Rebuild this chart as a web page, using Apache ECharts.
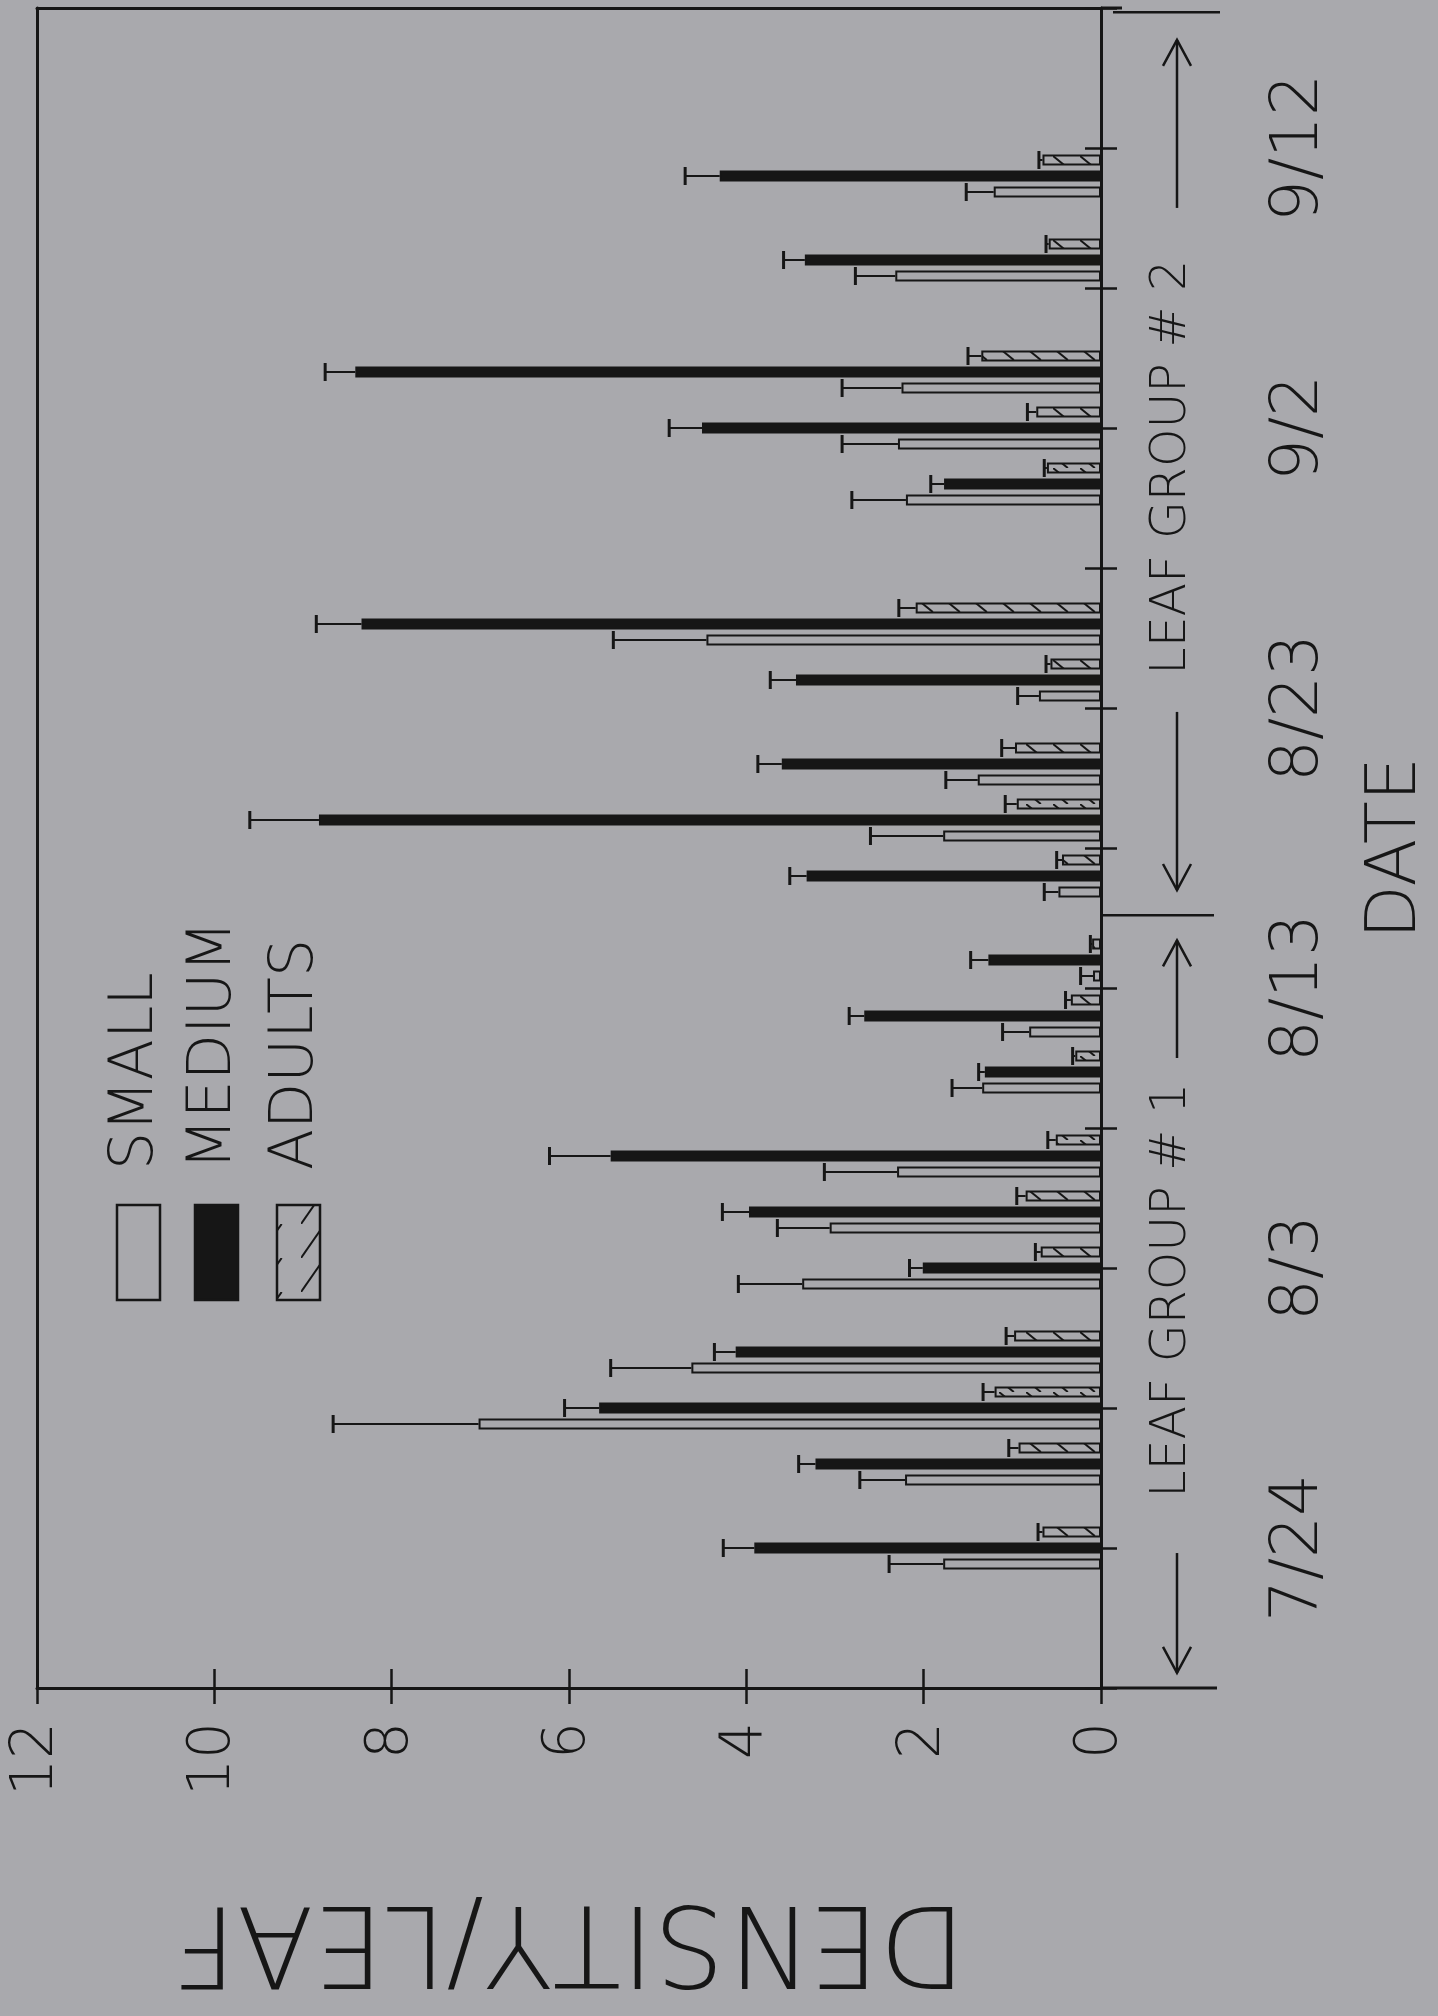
<!DOCTYPE html>
<html><head><meta charset="utf-8">
<script src="https://cdn.jsdelivr.net/npm/echarts@6/dist/echarts.min.js"></script>
<style>html,body{margin:0;padding:0;background:#a9a9ad;}#c{width:1438px;height:2016px;}</style>
</head><body><div id="c"></div>
<script>
// ---------------- data ----------------
const seriesNames = ['SMALL', 'MEDIUM', 'ADULTS'];
const sampleDates = ['7/24','7/27','7/29','7/31','8/3','8/5','8/7','8/10','8/12','8/14',
                     '8/17','8/19','8/21','8/24','8/26','8/31','9/2','9/4','9/8','9/11'];
const smallMean  = [1.78,2.21,7.02,4.62,3.37,3.06,2.30,1.34,0.81,0.09,0.48,1.78,1.39,0.70,4.45,2.20,2.29,2.25,2.32,1.21];
const smallErr   = [0.61,0.51,1.64,0.91,0.72,0.59,0.82,0.34,0.30,0.14,0.16,0.82,0.36,0.24,1.05,0.61,0.63,0.67,0.45,0.31];
const mediumMean = [3.91,3.22,5.66,4.12,2.01,3.97,5.53,1.31,2.67,1.27,3.32,8.82,3.60,3.44,8.34,1.77,4.50,8.41,3.34,4.30];
const mediumErr  = [0.35,0.19,0.39,0.24,0.15,0.30,0.69,0.07,0.17,0.20,0.19,0.78,0.27,0.29,0.51,0.15,0.37,0.34,0.24,0.39];
const adultMean  = [0.66,0.93,1.20,0.98,0.68,0.85,0.51,0.29,0.34,0.10,0.44,0.95,0.97,0.57,2.09,0.61,0.73,1.35,0.59,0.66];
const adultErr   = [0.05,0.11,0.13,0.09,0.06,0.10,0.09,0.03,0.06,0.02,0.06,0.13,0.15,0.05,0.19,0.03,0.10,0.15,0.03,0.04];
const densityMin = 0, densityMax = 12, densityStep = 2;
const dateTickLabels = ['7/24','8/3','8/13','8/23','9/2','9/12'];
const dateAxisStart = '7/19', dateAxisEnd = '9/17', dateTickStep = 5;
const groupLabels = ['LEAF GROUP # 1', 'LEAF GROUP # 2'];
const axisTitleX = 'DENSITY/LEAF', axisTitleY = 'DATE';

// ---------------- helpers ----------------
function toTime(md) { const p = md.split('/'); return Date.UTC(2000, +p[0] - 1, +p[1]); }
const refDate = dateTickLabels[0];
function dayOf(md) { return Math.round((toTime(md) - toTime(refDate)) / 864e5); }
// calendar days spanned by the date axis (axis scaffold, one slot per day)
const calendarDays = [];
for (let t = toTime(dateAxisStart); t <= toTime(dateAxisEnd); t += 864e5) {
  const d = new Date(t); calendarDays.push((d.getUTCMonth() + 1) + '/' + d.getUTCDate());
}

const INK = '#161616';
const BG = '#a9a9ad';
const F = '"DejaVu Sans","Liberation Sans",sans-serif';
const FW = 200;

function hatch(w, h, dir) {
  const c = document.createElement('canvas'); c.width = w; c.height = h;
  const g = c.getContext('2d'); g.strokeStyle = INK; g.lineWidth = 2;
  g.beginPath();
  if (dir > 0) { g.moveTo(0, h); g.lineTo(w * 0.55, 0); }
  else { g.moveTo(0, 0); g.lineTo(w * 0.55, h); }
  g.stroke();
  return c;
}
const barHatch = hatch(27, 12, -1);

const chart = echarts.init(document.getElementById('c'), null, {renderer: 'canvas'});

const BAR_W = 11, GAP = '45%';
const OFFS = {ADULTS: -16, MEDIUM: 0, SMALL: 16};

function barData(mean) {
  return calendarDays.map(d => { const i = sampleDates.indexOf(d); return i >= 0 ? mean[i] : '-'; });
}
function errData(mean, err) { return sampleDates.map((d, i) => [mean[i], err[i], d]); }

function errSeries(name, mean, err) {
  const off = OFFS[name];
  return {
    type: 'custom', name: name + ' err', xAxisIndex: 0, yAxisIndex: 0, z: 5,
    encode: {x: 0, y: 2},
    data: errData(mean, err),
    renderItem: function (params, api) {
      const v = api.value(0), e = api.value(1), c = api.value(2);
      const p0 = api.coord([v, c]), p1 = api.coord([v + e, c]);
      const y = p0[1] + off;
      return {type: 'group', children: [
        {type: 'line', shape: {x1: p0[0], y1: y, x2: p1[0], y2: y}, style: {stroke: INK, lineWidth: 2}},
        {type: 'line', shape: {x1: p1[0], y1: y - 9, x2: p1[0], y2: y + 9}, style: {stroke: INK, lineWidth: 3}}
      ]};
    }
  };
}

const noAxisExtras = {axisTick: {show: false}, axisLabel: {show: false}, splitLine: {show: false}};
const dMin = dayOf(dateAxisStart), dMax = dayOf(dateAxisEnd);
const dayLabel = v => { const i = dateTickLabels.findIndex(s => dayOf(s) === v); return i >= 0 ? dateTickLabels[i] : ''; };

const option = {
  backgroundColor: BG,
  animation: false,
  textStyle: {fontFamily: F},
  grid: {left: 37, top: 8, width: 1064, height: 1680, containLabel: false, outerBoundsMode: 'none'},
  xAxis: [
    { type: 'value', min: densityMin, max: densityMax, interval: densityStep, inverse: true, position: 'bottom',
      axisLine: {show: true, onZero: false, lineStyle: {color: INK, width: 3}},
      axisTick: {show: true, inside: false, length: 16, lineStyle: {color: INK, width: 2.5}},
      axisLabel: {show: true, rotate: 90, margin: 34, fontSize: 58, fontFamily: F, fontWeight: FW, color: INK},
      splitLine: {show: false},
      name: axisTitleX, nameLocation: 'middle', nameGap: 192, nameRotate: 180,
      nameTextStyle: {fontSize: 112, fontFamily: F, fontWeight: FW, color: INK}
    },
    { type: 'value', min: densityMin, max: densityMax, interval: densityStep, inverse: true, position: 'bottom',
      axisLine: {show: false, onZero: false},
      axisTick: {show: true, inside: true, length: 19, lineStyle: {color: INK, width: 2.5}},
      axisLabel: {show: false}, splitLine: {show: false}
    },
    Object.assign({ type: 'value', min: densityMin, max: densityMax, inverse: true, position: 'top',
      axisLine: {show: true, onZero: false, lineStyle: {color: INK, width: 3}} }, noAxisExtras)
  ],
  yAxis: [
    { type: 'category', data: calendarDays, boundaryGap: false, show: false },
    { type: 'value', min: dMin, max: dMax, interval: dateTickStep, position: 'right',
      axisLine: {show: true, onZero: false, lineStyle: {color: INK, width: 3}},
      axisTick: {show: true, inside: false, length: 16, lineStyle: {color: INK, width: 2.5}},
      axisLabel: {show: true, rotate: 90, margin: 166, fontSize: 66, fontFamily: F, fontWeight: FW, color: INK,
                  formatter: dayLabel},
      splitLine: {show: false},
      name: axisTitleY, nameLocation: 'middle', nameGap: 261, nameRotate: 90,
      nameTextStyle: {fontSize: 70, fontFamily: F, fontWeight: FW, color: INK}
    },
    { type: 'value', min: dMin, max: dMax, interval: dateTickStep, position: 'right',
      axisLine: {show: false, onZero: false},
      axisTick: {show: true, inside: true, length: 16, lineStyle: {color: INK, width: 2.5}},
      axisLabel: {show: false}, splitLine: {show: false}
    },
    Object.assign({ type: 'value', min: dMin, max: dMax, position: 'left',
      axisLine: {show: true, onZero: false, lineStyle: {color: INK, width: 3}} }, noAxisExtras)
  ],
  series: [
    { type: 'bar', name: 'ADULTS', xAxisIndex: 0, yAxisIndex: 0, barWidth: BAR_W, barGap: GAP,
      data: barData(adultMean),
      itemStyle: {color: {image: barHatch, repeat: 'repeat'}, borderColor: INK, borderWidth: 2} },
    { type: 'bar', name: 'MEDIUM', xAxisIndex: 0, yAxisIndex: 0, barWidth: BAR_W, barGap: GAP,
      data: barData(mediumMean),
      itemStyle: {color: INK, borderColor: INK, borderWidth: 2} },
    { type: 'bar', name: 'SMALL', xAxisIndex: 0, yAxisIndex: 0, barWidth: BAR_W, barGap: GAP,
      data: barData(smallMean),
      itemStyle: {color: BG, borderColor: INK, borderWidth: 2} },
    errSeries('ADULTS', adultMean, adultErr),
    errSeries('MEDIUM', mediumMean, mediumErr),
    errSeries('SMALL', smallMean, smallErr)
  ]
};
chart.setOption(option);

// ---------------- annotations placed through the axes ----------------
(function () {
  const yd = d => chart.convertToPixel({yAxisIndex: 1}, d);
  const xv = v => chart.convertToPixel({xAxisIndex: 0}, v);
  const x0 = xv(0);
  const yBot = yd(dMin), yTop = yd(dMax);
  const els = [];
  const line = (x1, y1, x2, y2, w) => els.push({type: 'line', silent: true,
    shape: {x1: x1, y1: y1, x2: x2, y2: y2}, style: {stroke: INK, lineWidth: w || 2.5}});
  line(x0, yBot, x0 + 116, yBot, 3);        // value axis runs on past the date axis
  line(x0, yTop, x0 + 21, yTop, 3);          // frame top
  line(x0, yd(22.6), x0 + 113, yd(22.6), 2.5);   // leaf group divider
  line(x0 + 12, yd(54.85), x0 + 119, yd(54.85), 2.5);

  const ax = x0 + 76;
  function arrow(dFrom, dTo) {
    const yA = yd(dFrom), yB = yd(dTo);
    line(ax, yA, ax, yB, 2.5);
    const s = yB > yA ? -1 : 1;
    els.push({type: 'polyline', silent: true,
      shape: {points: [[ax - 14, yB + s * 26], [ax, yB], [ax + 14, yB + s * 26]]},
      style: {stroke: INK, lineWidth: 2.5, fill: null}});
  }
  arrow(-0.18, -4.46); arrow(17.5, 21.7);
  arrow(29.86, 23.5); arrow(47.86, 53.86);

  const rtext = (txt, x, y, size, align) => els.push({type: 'text', silent: true, x: x, y: y, rotation: Math.PI / 2,
    style: {text: txt, fontSize: size, fontFamily: F, fontWeight: FW, fill: INK, align: align || 'center', verticalAlign: 'middle'}});
  rtext(groupLabels[0], x0 + 71, yd(9.2), 49);
  rtext(groupLabels[1], x0 + 71, yd(38.6), 49);

  // legend
  const legendHatch = hatch(43, 34, 1);
  const legendFill = {SMALL: BG, MEDIUM: INK, ADULTS: {image: legendHatch, repeat: 'repeat'}};
  const colX = [117, 195, 277];
  seriesNames.forEach((nm, i) => {
    els.push({type: 'rect', silent: true, shape: {x: colX[i], y: 1205, width: 43, height: 95},
      style: {fill: legendFill[nm], stroke: INK, lineWidth: 2.5}});
    rtext(nm, colX[i] + 19, 1170, 60, 'left');
  });
  chart.setOption({graphic: els});
})();
</script>
</body></html>
